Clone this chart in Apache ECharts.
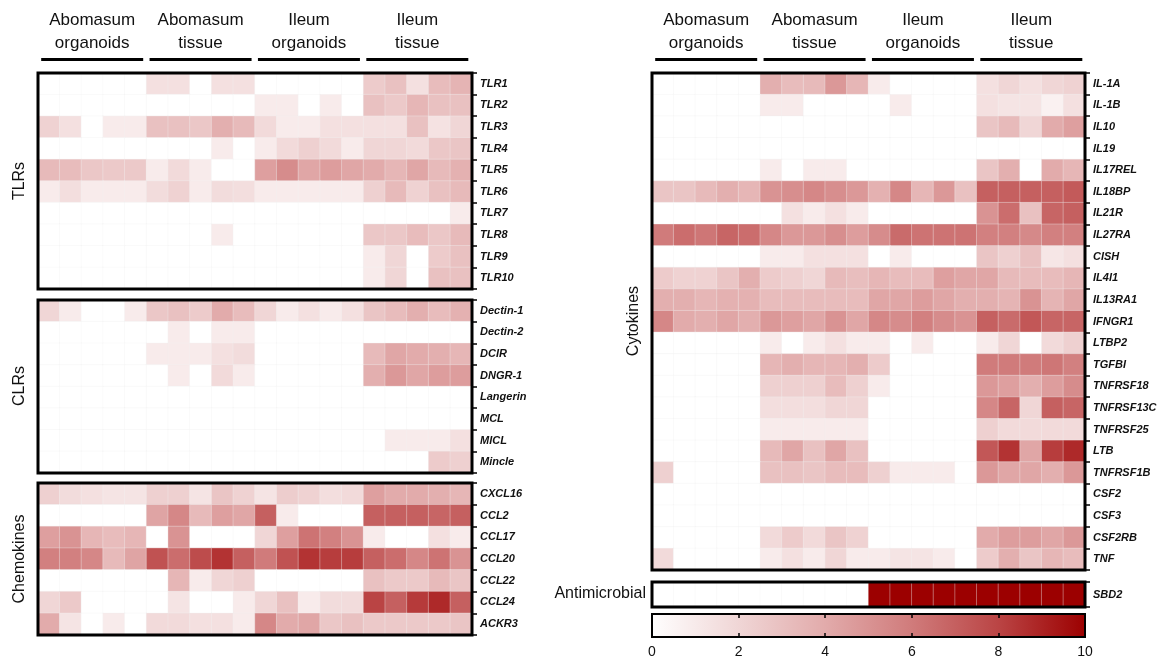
<!DOCTYPE html>
<html>
<head>
<meta charset="utf-8">
<script src="https://cdn.jsdelivr.net/npm/echarts@6/dist/echarts.min.js"></script>
<style>
  html, body { margin: 0; padding: 0; background: #fff; }
  #chart { width: 1176px; height: 661px; }
</style>
</head>
<body>
<div id="chart"></div>
<script>
// columns: 4 groups x 5 replicates
const samples = [
  'AO1', 'AO2', 'AO3', 'AO4', 'AO5',
  'AT1', 'AT2', 'AT3', 'AT4', 'AT5',
  'IO1', 'IO2', 'IO3', 'IO4', 'IO5',
  'IT1', 'IT2', 'IT3', 'IT4', 'IT5'
]
const groupLabels = ['Abomasum\norganoids', 'Abomasum\ntissue', 'Ileum\norganoids', 'Ileum\ntissue']

const tlrGenes = ['TLR1', 'TLR2', 'TLR3', 'TLR4', 'TLR5', 'TLR6', 'TLR7', 'TLR8', 'TLR9', 'TLR10']
const tlrValues = [
  [0, 0, 0, 0, 0, 1.5, 1.5, 0, 1.5, 1.5, 0, 0, 0, 0, 0, 2.5, 3, 1.5, 3.2, 3.6],
  [0, 0, 0, 0, 0, 0, 0, 0, 0, 0, 1, 1, 0, 1, 0, 3, 2.6, 3.5, 3, 3],
  [2.2, 1.5, 0, 1, 1, 3, 3, 2.7, 3.8, 3.3, 1.8, 1, 1, 1.5, 1.5, 1.5, 1.5, 3, 1.4, 2],
  [0, 0, 0, 0, 0, 0, 0, 0, 1, 0, 1, 1.8, 2.3, 1.8, 1, 2, 2, 1.8, 2.7, 2.8],
  [3.3, 3.2, 2.7, 2.6, 2.6, 1, 1.8, 1, 0, 0, 4.5, 5.3, 4.2, 4.6, 4.2, 4, 3.5, 4.2, 3.3, 3.7],
  [1, 1.6, 1, 1, 1, 1.7, 2.2, 1, 1.7, 1.6, 1, 1, 1, 1, 1, 2.3, 3.3, 2.2, 3, 3.3],
  [0, 0, 0, 0, 0, 0, 0, 0, 0, 0, 0, 0, 0, 0, 0, 0, 0, 0, 0, 1],
  [0, 0, 0, 0, 0, 0, 0, 0, 1, 0, 0, 0, 0, 0, 0, 2.7, 2.7, 3.2, 2.7, 3.3],
  [0, 0, 0, 0, 0, 0, 0, 0, 0, 0, 0, 0, 0, 0, 0, 1, 2, 0, 2.5, 3],
  [0, 0, 0, 0, 0, 0, 0, 0, 0, 0, 0, 0, 0, 0, 0, 1, 2, 0, 3, 3]
]

const clrGenes = ['Dectin-1', 'Dectin-2', 'DCIR', 'DNGR-1', 'Langerin', 'MCL', 'MICL', 'Mincle']
const clrValues = [
  [2, 1, 0, 0, 1, 2.7, 3, 2.5, 4, 3.2, 2, 1, 1.5, 1, 1.5, 2.8, 3.2, 3.8, 3.2, 3.7],
  [0, 0, 0, 0, 0, 0, 1, 0, 1, 1, 0, 0, 0, 0, 0, 0, 0, 0, 0, 0],
  [0, 0, 0, 0, 0, 1, 1, 1, 1.5, 1.7, 0, 0, 0, 0, 0, 3.3, 4.2, 4, 3.8, 3.5],
  [0, 0, 0, 0, 0, 0, 1, 0, 1.8, 1, 0, 0, 0, 0, 0, 3.8, 4.8, 4.2, 4.6, 4.6],
  [0, 0, 0, 0, 0, 0, 0, 0, 0, 0, 0, 0, 0, 0, 0, 0, 0, 0, 0, 0],
  [0, 0, 0, 0, 0, 0, 0, 0, 0, 0, 0, 0, 0, 0, 0, 0, 0, 0, 0, 0],
  [0, 0, 0, 0, 0, 0, 0, 0, 0, 0, 0, 0, 0, 0, 0, 0, 1, 1, 1, 1.5],
  [0, 0, 0, 0, 0, 0, 0, 0, 0, 0, 0, 0, 0, 0, 0, 0, 0, 0, 2.5, 2.3]
]

const chemoGenes = ['CXCL16', 'CCL2', 'CCL17', 'CCL20', 'CCL22', 'CCL24', 'ACKR3']
const chemoValues = [
  [2.3, 1.7, 1.5, 1.3, 1.3, 2.3, 2.3, 1.3, 2.8, 2.2, 1.3, 2.4, 2.2, 1.6, 1.8, 4.5, 4, 4, 3.8, 3.5],
  [0, 0, 0, 0, 0, 4.3, 5.5, 3.3, 4.5, 4.2, 7, 1, 0, 0, 0, 7, 7, 7, 6.8, 7],
  [4.5, 5, 3.5, 3.2, 3.5, 0, 5, 0, 0, 0, 2, 4.5, 6.3, 5.8, 5, 1, 0, 0, 1.5, 1],
  [5.8, 5.8, 5.5, 3.3, 4.3, 7.5, 6.5, 7.7, 8.5, 7, 6, 7.5, 8.5, 8.2, 8.2, 7, 6.5, 5.5, 6.3, 5],
  [0, 0, 0, 0, 0, 0, 3.5, 1, 2, 2.3, 0, 0, 0, 0, 0, 3, 2.6, 2.6, 3.3, 2.8],
  [2, 2.6, 0, 0, 0, 0, 1.3, 0, 0, 1, 2, 3, 1, 1.7, 1.7, 8, 7, 8.3, 8.8, 7],
  [4, 1.3, 0, 1, 0, 1.8, 1.8, 1.5, 1.5, 1, 5.5, 4, 4.2, 2.7, 3, 2.6, 2.6, 2.6, 2.6, 2.8]
]

const cytoGenes = [
  'IL-1A', 'IL-1B', 'IL10', 'IL19', 'IL17REL', 'IL18BP', 'IL21R', 'IL27RA', 'CISH', 'IL4I1',
  'IL13RA1', 'IFNGR1', 'LTBP2', 'TGFBI', 'TNFRSF18', 'TNFRSF13C', 'TNFRSF25', 'LTB',
  'TNFRSF1B', 'CSF2', 'CSF3', 'CSF2RB', 'TNF'
]
const cytoValues = [
  [0, 0, 0, 0, 0, 3.8, 3.2, 3.3, 4.8, 3.5, 1, 0, 0, 0, 0, 1.5, 2, 1.5, 2, 2.2],
  [0, 0, 0, 0, 0, 1, 1, 0, 0, 0, 0, 1, 0, 0, 0, 1.5, 1.3, 1.3, 0.7, 1.5],
  [0, 0, 0, 0, 0, 0, 0, 0, 0, 0, 0, 0, 0, 0, 0, 2.8, 3.3, 2, 4, 4.5],
  [0, 0, 0, 0, 0, 0, 0, 0, 0, 0, 0, 0, 0, 0, 0, 0, 0, 0, 0, 0],
  [0, 0, 0, 0, 0, 1, 0, 1, 1, 0, 0, 0, 0, 0, 0, 2.8, 3.8, 0, 4, 3.5],
  [2.8, 2.8, 3.3, 3.8, 3.5, 5, 5.2, 5.5, 5.2, 4.8, 3.7, 5.5, 3.5, 4.8, 3, 7, 7, 7, 7, 7.2],
  [0, 0, 0, 0, 0, 0, 1.5, 1, 1.5, 1, 0, 0, 0, 0, 0, 5, 6.5, 3, 6.8, 7],
  [6, 6.5, 6.2, 6.8, 6.5, 5.5, 4.8, 4.8, 5.2, 4.6, 5.3, 6.6, 6.3, 6.3, 6.3, 5.8, 5.8, 5.4, 5.8, 5.8],
  [0, 0, 0, 0, 0, 1, 1, 1.5, 1.5, 1.5, 0, 1, 0, 0, 0, 2.8, 2.3, 3, 1.2, 1.5],
  [2.5, 2.2, 2.2, 2.8, 3.8, 2.5, 2.3, 2, 3.3, 3.1, 3.5, 3.2, 3.2, 4.5, 4.2, 4.2, 3.3, 3.2, 3.2, 3.5],
  [3.8, 3.8, 3.5, 3.7, 3.7, 3.2, 3.2, 3.2, 3.2, 3.2, 4.2, 4.2, 4.6, 4.2, 3.8, 3.8, 3.6, 5, 3.6, 4.2],
  [5.5, 4, 3.8, 4.2, 3.8, 4.8, 4.5, 4.2, 5, 4.2, 5.5, 5.3, 5.8, 5.3, 5, 7, 6.6, 7.3, 6.8, 6.8],
  [0, 0, 0, 0, 0, 1, 0, 1, 1.5, 1, 1, 0, 1, 0, 0, 1, 2, 0, 1.8, 2.3],
  [0, 0, 0, 0, 0, 3.5, 3.8, 3.5, 3.5, 3.8, 2.5, 0, 0, 0, 0, 6, 6, 6, 6.2, 5.8],
  [0, 0, 0, 0, 0, 2.3, 2.3, 2.3, 3.2, 2.3, 1, 0, 0, 0, 0, 4.8, 4.5, 3.8, 4.6, 5.3],
  [0, 0, 0, 0, 0, 1.6, 1.6, 1.6, 2, 2, 0, 0, 0, 0, 0, 5.5, 6.8, 2, 7, 6.8],
  [0, 0, 0, 0, 0, 1, 1, 1, 1, 1, 0, 0, 0, 0, 0, 2.3, 1.8, 1.8, 1.8, 1.8],
  [0, 0, 0, 0, 0, 3.3, 4.2, 3, 4.2, 3, 0, 0, 0, 0, 0, 7.3, 8.5, 4.2, 8.2, 8.8],
  [2.3, 0, 0, 0, 0, 3, 3, 2.8, 3.2, 3.2, 2.3, 1, 1, 1, 0, 4.8, 4.2, 4.2, 3.8, 4.8],
  [0, 0, 0, 0, 0, 0, 0, 0, 0, 0, 0, 0, 0, 0, 0, 0, 0, 0, 0, 0],
  [0, 0, 0, 0, 0, 0, 0, 0, 0, 0, 0, 0, 0, 0, 0, 0, 0, 0, 0, 0],
  [0, 0, 0, 0, 0, 1.8, 2.5, 1.8, 2.8, 2.2, 0, 0, 0, 0, 0, 4, 4.6, 4.6, 4.2, 4.8],
  [1.8, 0, 0, 0, 0, 1, 1.5, 1, 2, 1, 1, 1.3, 1.3, 1, 0, 2.5, 3.8, 2.8, 3.5, 3.2]
]

const amGenes = ['SBD2']
const amValues = [
  [0, 0, 0, 0, 0, 0, 0, 0, 0, 0, 10, 10, 10, 10, 10, 10, 10, 10, 10, 10]
]

const scaleMin = 0
const scaleMax = 10
const scaleColors = ['#ffffff', '#f0d6d6', '#e2abab', '#d07b7b', '#ba4444', '#9c0000']

const FONT = 'Arial, "Liberation Sans", sans-serif'

// panel boxes in pixels
const panels = [
  { genes: tlrGenes, values: tlrValues, left: 38, top: 73, width: 434, height: 216 },
  { genes: clrGenes, values: clrValues, left: 38, top: 300, width: 434, height: 173 },
  { genes: chemoGenes, values: chemoValues, left: 38, top: 483, width: 434, height: 152 },
  { genes: cytoGenes, values: cytoValues, left: 652, top: 73, width: 433, height: 497 },
  { genes: amGenes, values: amValues, left: 652, top: 582, width: 433, height: 25 }
]

const chart = echarts.init(document.getElementById('chart'))

const grids = []
const xAxes = []
const yAxes = []
const series = []

panels.forEach((p, i) => {
  grids.push({
    left: p.left, top: p.top, width: p.width, height: p.height,
    show: true, z: 10,
    backgroundColor: 'rgba(0,0,0,0)',
    borderColor: '#000', borderWidth: 3
  })
  xAxes.push({
    type: 'category', gridIndex: i, data: samples, show: false
  })
  yAxes.push({
    type: 'category', gridIndex: i, data: p.genes, inverse: true, position: 'right',
    axisLine: { show: false },
    axisTick: { show: true, length: 5, lineStyle: { color: '#000', width: 1.5 } },
    splitLine: { show: false },
    axisLabel: {
      fontFamily: FONT, fontSize: 11, fontWeight: 'bold', fontStyle: 'italic',
      color: '#111', margin: 8
    }
  })
  const data = []
  p.values.forEach((row, r) => {
    row.forEach((v, c) => data.push([c, r, v]))
  })
  series.push({
    type: 'heatmap', xAxisIndex: i, yAxisIndex: i, data,
    itemStyle: { borderColor: 'rgba(240,240,240,0.35)', borderWidth: 1 },
    emphasis: { disabled: true }
  })
})

// colour scale bar
const cbIndex = panels.length
grids.push({
  left: 652, top: 614, width: 433, height: 23, show: true, z: 1,
  borderColor: '#000', borderWidth: 2,
  backgroundColor: new echarts.graphic.LinearGradient(0, 0, 1, 0,
    scaleColors.map((c, k) => ({ offset: k / (scaleColors.length - 1), color: c })))
})
xAxes.push({
  type: 'value', gridIndex: cbIndex, min: scaleMin, max: scaleMax, interval: 2, position: 'bottom', z: 5,
  axisLine: { show: false }, splitLine: { show: false },
  axisTick: { show: true, inside: true, length: 4, lineStyle: { color: '#000', width: 1.5 } },
  axisLabel: { fontFamily: FONT, fontSize: 14, color: '#111', margin: 8 }
})
xAxes.push({
  type: 'value', gridIndex: cbIndex, min: scaleMin, max: scaleMax, interval: 2, position: 'top', z: 5,
  axisLine: { show: false }, splitLine: { show: false },
  axisTick: { show: true, inside: true, length: 4, lineStyle: { color: '#000', width: 1.5 } },
  axisLabel: { show: false }
})
yAxes.push({ type: 'value', gridIndex: cbIndex, show: false })

// header texts and group lines
const graphics = []
const sideText = (text, x, y, rotate) => ({
  type: 'text', x, y, rotation: rotate ? Math.PI / 2 : 0,
  style: {
    text, font: '16px ' + FONT, fill: '#111',
    align: rotate ? 'center' : 'right', verticalAlign: 'middle'
  }
})
;[38, 652].forEach(left => {
  const w = 433.5 / 4
  groupLabels.forEach((g, k) => {
    const cx = left + w * (k + 0.5)
    graphics.push({
      type: 'text', x: cx, y: 32,
      style: { text: g, font: '17px ' + FONT, fill: '#111', align: 'center', verticalAlign: 'middle', lineHeight: 23 }
    })
    graphics.push({
      type: 'line', shape: { x1: cx - 51, y1: 59.5, x2: cx + 51, y2: 59.5 },
      style: { stroke: '#000', lineWidth: 3 }
    })
  })
})
graphics.push(sideText('TLRs', 20, 181, true))
graphics.push(sideText('CLRs', 20, 386, true))
graphics.push(sideText('Chemokines', 20, 559, true))
graphics.push(sideText('Cytokines', 634, 321, true))
graphics.push(sideText('Antimicrobial', 646, 594, false))

const option = {
  backgroundColor: '#fff',
  animation: false,
  grid: grids,
  xAxis: xAxes,
  yAxis: yAxes,
  visualMap: {
    type: 'continuous', show: false, min: scaleMin, max: scaleMax,
    seriesIndex: series.map((s, k) => k),
    inRange: { color: scaleColors }
  },
  graphic: graphics,
  series
}

chart.setOption(option)
</script>
</body>
</html>
